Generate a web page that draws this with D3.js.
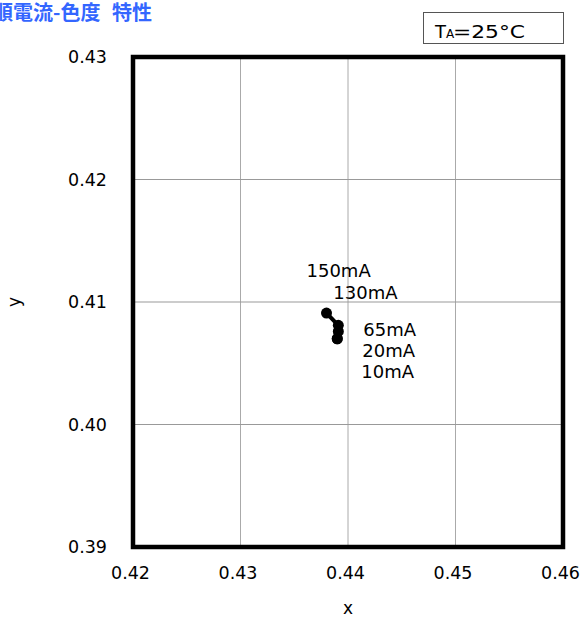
<!DOCTYPE html>
<html>
<head>
<meta charset="utf-8">
<script src="https://cdn.jsdelivr.net/npm/d3@7"></script>
<style>
  body { margin: 0; background: #fff; }
  svg { display: block; }
  text { font-family: "DejaVu Sans", Verdana, sans-serif; fill: #000; }
</style>
</head>
<body>
<div id="graph"></div>
<script>
    // data
    const currents = ["10mA", "20mA", "65mA", "130mA", "150mA"];
    const xValues = [0.4390, 0.4390, 0.4391, 0.4391, 0.4380];
    const yValues = [0.4070, 0.4070, 0.4076, 0.4081, 0.4091];
    const xTicks = [0.42, 0.43, 0.44, 0.45, 0.46];
    const yTicks = [0.39, 0.40, 0.41, 0.42, 0.43];

    const w = 583;
    const h = 619;
    const m = { left: 133, right: 20, top: 57, bottom: 72 };

    // label offsets from each point (px)
    const labelOffsets = [[24, 39], [25, 18], [25, 5], [-5, -26], [-20, -36]];

    const svg = d3.select('#graph')
        .append('svg')
        .attr('width', w)
        .attr('height', h);

    const xScale = d3.scaleLinear()
        .domain([0.42, 0.46])
        .range([m.left, w - m.right]);

    const yScale = d3.scaleLinear()
        .domain([0.39, 0.43])
        .range([h - m.bottom, m.top]);

    // title (its first glyph runs off the left edge, as in the original)
    const title = svg.append('text')
        .attr('x', -7)
        .attr('y', 20)
        .style('font-family', '"Noto Sans CJK JP", sans-serif')
        .style('font-weight', 'bold')
        .style('font-size', '20px')
        .style('fill', '#3366ff');
    title.append('tspan').text('順電流-色度');
    title.append('tspan').attr('x', 112).text('特性');

    // temperature box
    svg.append('rect')
        .attr('x', 423.5)
        .attr('y', 12.5)
        .attr('width', 140)
        .attr('height', 31)
        .attr('fill', 'none')
        .attr('stroke', '#555')
        .attr('stroke-width', 1);

    const ta = svg.append('text')
        .attr('x', 435)
        .attr('y', 38)
        .style('font-size', '18px');
    ta.append('tspan').text('T');
    ta.append('tspan').style('font-size', '12px').text('A');
    ta.append('tspan')
        .attr('x', 453)
        .attr('textLength', 72)
        .attr('lengthAdjust', 'spacingAndGlyphs')
        .text('=25°C');

    // grid
    svg.append('g')
        .selectAll('line')
        .data(xTicks.slice(1, -1))
        .enter()
        .append('line')
        .attr('x1', (d) => xScale(d))
        .attr('x2', (d) => xScale(d))
        .attr('y1', yScale(0.39))
        .attr('y2', yScale(0.43))
        .attr('stroke', '#aaa')
        .attr('stroke-width', 1);

    svg.append('g')
        .selectAll('line')
        .data(yTicks.slice(1, -1))
        .enter()
        .append('line')
        .attr('y1', (d) => yScale(d))
        .attr('y2', (d) => yScale(d))
        .attr('x1', xScale(0.42))
        .attr('x2', xScale(0.46))
        .attr('stroke', '#999')
        .attr('stroke-width', 1);

    // axes (labels only)
    const xAxis = d3.axisBottom(xScale)
        .tickValues(xTicks)
        .tickSize(0)
        .tickPadding(20)
        .tickFormat(d3.format('.2f'));

    const yAxis = d3.axisLeft(yScale)
        .tickValues(yTicks)
        .tickSize(0)
        .tickPadding(26)
        .tickFormat(d3.format('.2f'));

    const gx = svg.append('g')
        .attr('transform', 'translate(-3,' + (h - m.bottom) + ')')
        .call(xAxis);
    const gy = svg.append('g')
        .attr('transform', 'translate(' + m.left + ',0)')
        .call(yAxis);

    [gx, gy].forEach(function (g) {
        g.select('.domain').remove();
        g.selectAll('text')
            .style('font-family', '"DejaVu Sans", Verdana, sans-serif')
            .style('font-size', '17.5px')
            .attr('fill', '#000');
    });

    // plot border
    svg.append('rect')
        .attr('x', xScale(0.42))
        .attr('y', yScale(0.43))
        .attr('width', xScale(0.46) - xScale(0.42))
        .attr('height', yScale(0.39) - yScale(0.43))
        .attr('fill', 'none')
        .attr('stroke', '#000')
        .attr('stroke-width', 4.5);

    // axis titles
    svg.append('text')
        .attr('x', xScale(0.44))
        .attr('y', 614)
        .attr('text-anchor', 'middle')
        .style('font-size', '17px')
        .text('x');

    svg.append('text')
        .attr('transform', 'translate(20,' + yScale(0.41) + ') rotate(-90)')
        .attr('text-anchor', 'middle')
        .style('font-size', '17px')
        .text('y');

    // series
    const points = currents.map(function (c, i) {
        return { label: c, x: xValues[i], y: yValues[i] };
    });

    const line = d3.line()
        .x((d) => xScale(d.x))
        .y((d) => yScale(d.y));

    svg.append('path')
        .datum(points)
        .attr('d', line)
        .attr('fill', 'none')
        .attr('stroke', '#000')
        .attr('stroke-width', 4);

    svg.selectAll('.dot')
        .data(points)
        .enter()
        .append('circle')
        .attr('class', 'dot')
        .attr('cx', (d) => xScale(d.x))
        .attr('cy', (d) => yScale(d.y))
        .attr('r', 5.5)
        .attr('fill', '#000');

    svg.selectAll('.lbl')
        .data(points)
        .enter()
        .append('text')
        .attr('class', 'lbl')
        .attr('x', (d, i) => xScale(d.x) + labelOffsets[i][0])
        .attr('y', (d, i) => yScale(d.y) + labelOffsets[i][1])
        .style('font-size', '18px')
        .text((d) => d.label);
</script>
</body>
</html>
